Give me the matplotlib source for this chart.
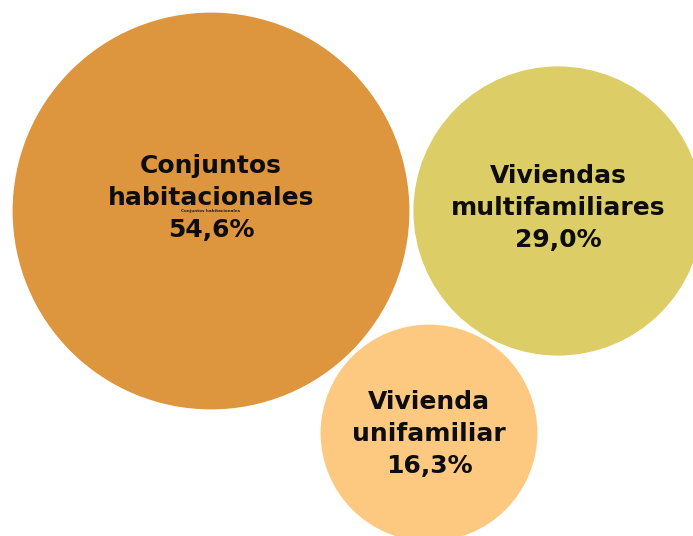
import matplotlib
matplotlib.use("Agg")
import numpy as np
import matplotlib.pyplot as plt
from matplotlib.patches import Circle

# data
labels = ["Conjuntos\nhabitacionales", "Viviendas\nmultifamiliares", "Vivienda\nunifamiliar"]
values = [54.6, 29.0, 16.3]
colors = ["#DE963E", "#DDCD67", "#FDC980"]

# layout (pixel space, y down)
centers = [(211, 211), (558, 211), (429, 433)]
label_dy = [-13, -3, 1]
scale = 26.85  # px per sqrt(%)

W, H = 693, 536
fig = plt.figure(figsize=(W / 100, H / 100), dpi=100)
ax = fig.add_axes([0, 0, 1, 1])
ax.set_xlim(0, W)
ax.set_ylim(H, 0)
ax.set_aspect("equal")
ax.axis("off")

for lab, val, col, (cx, cy), dy in zip(labels, values, colors, centers, label_dy):
    r = scale * np.sqrt(val)
    ax.add_patch(Circle((cx, cy), r, facecolor=col, edgecolor="none"))
    txt = f"{lab}\n{val:.1f}%".replace(".", ",")
    ax.text(cx, cy + dy, txt, ha="center", va="center", fontsize=18,
            fontfamily="DejaVu Sans", fontweight="bold", color="#0d0d0d",
            linespacing=1.42)

# tiny label inside the largest bubble
ax.text(centers[0][0], centers[0][1], labels[0].replace("\n", " "),
        ha="center", va="center", fontsize=3, fontweight="bold",
        color="#222222")

fig.savefig("out.png", dpi=100)
